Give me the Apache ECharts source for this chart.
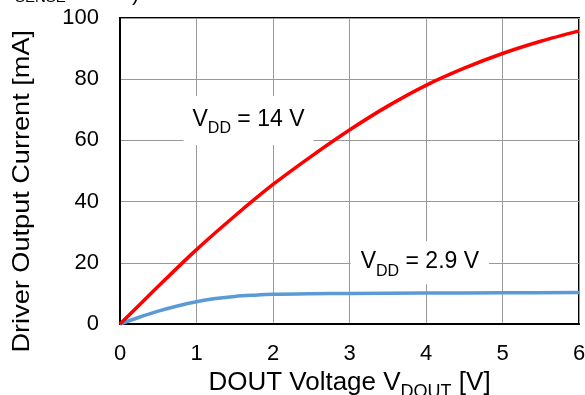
<!DOCTYPE html>
<html><head><meta charset="utf-8">
<script src="https://cdn.jsdelivr.net/npm/echarts@6/dist/echarts.min.js"></script>
<style>html,body{margin:0;padding:0;background:#fff}#c{width:585px;height:395px}</style>
</head><body><div id="c"></div>
<script>
const vdout14 = [0, 0.5, 1, 1.5, 2, 2.5, 3, 3.5, 4, 4.5, 5, 5.5, 6];
const i14 = [0, 12.3, 24.3, 35.3, 45.6, 54.8, 63.4, 71.2, 78.0, 83.6, 88.4, 92.4, 95.8];
const vdout29 = [0, 0.25, 0.5, 0.75, 1, 1.25, 1.5, 1.75, 2, 2.5, 3, 4, 5, 6];
const i29 = [0, 2.2, 4.2, 5.9, 7.3, 8.3, 9.0, 9.4, 9.7, 9.9, 10.0, 10.1, 10.2, 10.3];
const xTicks = [0, 1, 2, 3, 4, 5, 6];
const yTicks = [0, 20, 40, 60, 80, 100];
const FONT = '"Liberation Sans", Arial, sans-serif';

const chart = echarts.init(document.getElementById('c'), null, {renderer: 'canvas'});
const pair = (xs, ys) => xs.map((x, k) => [x, ys[k]]);
const rich = {
  n: {fontSize: 23, fontFamily: FONT, color: '#000', verticalAlign: 'top', lineHeight: 25},
  s: {fontSize: 16, fontFamily: FONT, color: '#000', verticalAlign: 'top', lineHeight: 16, padding: [13, 0, 0, 0]}
};
chart.setOption({
  animation: false,
  grid: {left: 120, right: 6, top: 18, bottom: 71, show: true, borderColor: '#000', borderWidth: 2,
         containLabel: false, outerBoundsMode: 'none'},
  xAxis: {
    type: 'value', min: xTicks[0], max: xTicks[xTicks.length - 1], interval: 1,
    axisLine: {show: true, lineStyle: {color: '#000', width: 2}},
    axisTick: {show: false},
    splitLine: {show: true, lineStyle: {color: '#999', width: 1}},
    axisLabel: {fontSize: 22, fontFamily: FONT, color: '#000', margin: 19},
    name: '{n|DOUT Voltage V}{s|DOUT}{n| [V]}', nameLocation: 'middle', nameGap: 45,
    nameTextStyle: {rich: {
      n: {fontSize: 26, fontFamily: FONT, color: '#000', verticalAlign: 'top', lineHeight: 27},
      s: {fontSize: 18, fontFamily: FONT, color: '#000', verticalAlign: 'top', lineHeight: 18, padding: [13, 0, 0, 0]}
    }}
  },
  yAxis: {
    type: 'value', min: yTicks[0], max: yTicks[yTicks.length - 1], interval: 20,
    axisLine: {show: true, lineStyle: {color: '#000', width: 2}},
    axisTick: {show: false},
    splitLine: {show: true, lineStyle: {color: '#999', width: 1}},
    axisLabel: {fontSize: 22, fontFamily: FONT, color: '#000', margin: 21}
  },
  graphic: [
    {type: 'text', left: 10, top: 30, rotation: Math.PI / 2, scaleX: 1.13,
     style: {text: 'Driver Output Current [mA]', fontSize: 24, fontFamily: FONT, fill: '#000'}},
    {type: 'text', x: 15, y: 5.5, style: {text: 'SENSE', fontSize: 15, fontFamily: FONT, fill: '#000', verticalAlign: 'bottom'}},
    {type: 'text', x: 132, y: 4.5, style: {text: ')', fontSize: 22, fontFamily: FONT, fill: '#000', verticalAlign: 'bottom'}}
  ],
  series: [
    {type: 'line', name: 'VDD = 14 V', data: pair(vdout14, i14), smooth: 0.3, showSymbol: false,
     lineStyle: {color: '#FF0000', width: 3.5}, z: 3,
     markPoint: {symbol: 'rect', symbolSize: 0, data: [{coord: [1.68, 66.5]}],
       label: {show: true, position: 'inside', formatter: '{n|V}{s|DD}{n| = 14 V}', backgroundColor: '#fff', padding: [12, 9, 12, 9], rich: rich}}},
    {type: 'line', name: 'VDD = 2.9 V', data: pair(vdout29, i29), smooth: 0.3, showSymbol: false,
     lineStyle: {color: '#5B9BD5', width: 3.5}, z: 2,
     markPoint: {symbol: 'rect', symbolSize: 0, data: [{coord: [3.92, 20]}],
       label: {show: true, position: 'inside', formatter: '{n|V}{s|DD}{n| = 2.9 V}', backgroundColor: '#fff', padding: [9, 10, 9, 10], rich: rich}}}
  ]
});
</script></body></html>
